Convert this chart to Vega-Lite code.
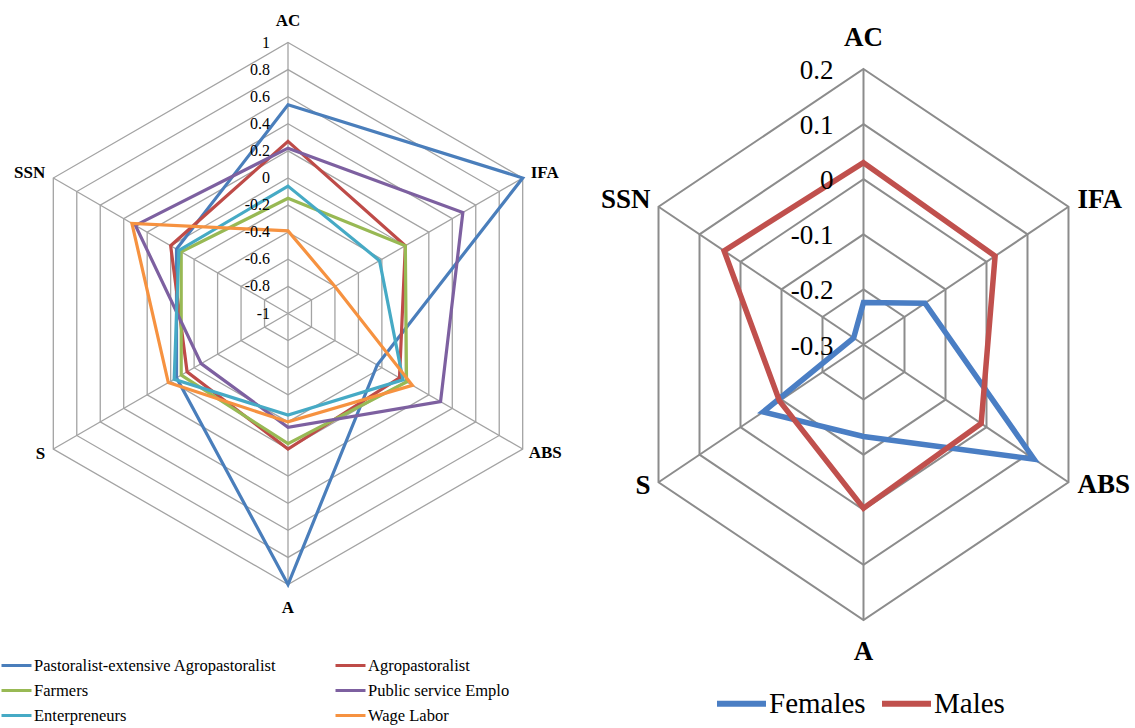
{
  "$schema": "https://vega.github.io/schema/vega-lite/v6.json",
  "padding": 0,
  "spacing": 0,
  "background": "white",
  "config": {"view": {"stroke": null}},
  "datasets": {
    "axes": [
      {"axis": "AC", "k": 0}, {"axis": "IFA", "k": 1}, {"axis": "ABS", "k": 2},
      {"axis": "A", "k": 3}, {"axis": "S", "k": 4}, {"axis": "SSN", "k": 5}
    ],
    "leftSeries": [
      {"series": "Pastoralist-extensive Agropastoralist", "k": 0, "value": 0.54},
      {"series": "Pastoralist-extensive Agropastoralist", "k": 1, "value": 1.0},
      {"series": "Pastoralist-extensive Agropastoralist", "k": 2, "value": -0.24},
      {"series": "Pastoralist-extensive Agropastoralist", "k": 3, "value": 1.0},
      {"series": "Pastoralist-extensive Agropastoralist", "k": 4, "value": -0.05},
      {"series": "Pastoralist-extensive Agropastoralist", "k": 5, "value": -0.05},
      {"series": "Agropastoralist", "k": 0, "value": 0.27},
      {"series": "Agropastoralist", "k": 1, "value": 0.0},
      {"series": "Agropastoralist", "k": 2, "value": -0.05},
      {"series": "Agropastoralist", "k": 3, "value": 0.0},
      {"series": "Agropastoralist", "k": 4, "value": -0.14},
      {"series": "Agropastoralist", "k": 5, "value": 0.0},
      {"series": "Farmers", "k": 0, "value": -0.15},
      {"series": "Farmers", "k": 1, "value": 0.0},
      {"series": "Farmers", "k": 2, "value": 0.01},
      {"series": "Farmers", "k": 3, "value": -0.04},
      {"series": "Farmers", "k": 4, "value": -0.09},
      {"series": "Farmers", "k": 5, "value": -0.09},
      {"series": "Public service Emplo", "k": 0, "value": 0.22},
      {"series": "Public service Emplo", "k": 1, "value": 0.49},
      {"series": "Public service Emplo", "k": 2, "value": 0.30},
      {"series": "Public service Emplo", "k": 3, "value": -0.16},
      {"series": "Public service Emplo", "k": 4, "value": -0.26},
      {"series": "Public service Emplo", "k": 5, "value": 0.30},
      {"series": "Enterpreneurs", "k": 0, "value": -0.06},
      {"series": "Enterpreneurs", "k": 1, "value": -0.22},
      {"series": "Enterpreneurs", "k": 2, "value": -0.02},
      {"series": "Enterpreneurs", "k": 3, "value": -0.25},
      {"series": "Enterpreneurs", "k": 4, "value": -0.03},
      {"series": "Enterpreneurs", "k": 5, "value": -0.07},
      {"series": "Wage Labor", "k": 0, "value": -0.39},
      {"series": "Wage Labor", "k": 1, "value": -0.6},
      {"series": "Wage Labor", "k": 2, "value": 0.06},
      {"series": "Wage Labor", "k": 3, "value": -0.2},
      {"series": "Wage Labor", "k": 4, "value": 0.02},
      {"series": "Wage Labor", "k": 5, "value": 0.33}
    ],
    "rightSeries": [
      {"series": "Females", "k": 0, "value": -0.224},
      {"series": "Females", "k": 1, "value": -0.15},
      {"series": "Females", "k": 2, "value": 0.116},
      {"series": "Females", "k": 3, "value": -0.133},
      {"series": "Females", "k": 4, "value": -0.055},
      {"series": "Females", "k": 5, "value": -0.276},
      {"series": "Males", "k": 0, "value": 0.03},
      {"series": "Males", "k": 1, "value": 0.021},
      {"series": "Males", "k": 2, "value": -0.013},
      {"series": "Males", "k": 3, "value": -0.003},
      {"series": "Males", "k": 4, "value": -0.095},
      {"series": "Males", "k": 5, "value": 0.04}
    ],
    "leftLevels": [
      {"level": 1, "lab": "1", "k": [0, 1, 2, 3, 4, 5]},
      {"level": 0.8, "lab": "0.8", "k": [0, 1, 2, 3, 4, 5]},
      {"level": 0.6, "lab": "0.6", "k": [0, 1, 2, 3, 4, 5]},
      {"level": 0.4, "lab": "0.4", "k": [0, 1, 2, 3, 4, 5]},
      {"level": 0.2, "lab": "0.2", "k": [0, 1, 2, 3, 4, 5]},
      {"level": 0, "lab": "0", "k": [0, 1, 2, 3, 4, 5]},
      {"level": -0.2, "lab": "-0.2", "k": [0, 1, 2, 3, 4, 5]},
      {"level": -0.4, "lab": "-0.4", "k": [0, 1, 2, 3, 4, 5]},
      {"level": -0.6, "lab": "-0.6", "k": [0, 1, 2, 3, 4, 5]},
      {"level": -0.8, "lab": "-0.8", "k": [0, 1, 2, 3, 4, 5]},
      {"level": -1, "lab": "-1", "k": [0]}
    ],
    "rightLevels": [
      {"level": 0.2, "lab": "0.2", "k": [0, 1, 2, 3, 4, 5]},
      {"level": 0.1, "lab": "0.1", "k": [0, 1, 2, 3, 4, 5]},
      {"level": 0, "lab": "0", "k": [0, 1, 2, 3, 4, 5]},
      {"level": -0.1, "lab": "-0.1", "k": [0, 1, 2, 3, 4, 5]},
      {"level": -0.2, "lab": "-0.2", "k": [0, 1, 2, 3, 4, 5]},
      {"level": -0.3, "lab": "-0.3", "k": [0]}
    ]
  },
  "hconcat": [
    {
      "width": 600,
      "height": 728,
      "encoding": {
        "x": {"field": "px", "type": "quantitative", "scale": {"domain": [-1.06273, 1.15129], "nice": false, "zero": false}, "axis": null},
        "y": {"field": "py", "type": "quantitative", "scale": {"domain": [-1.52952, 1.15683], "nice": false, "zero": false}, "axis": null}
      },
      "layer": [
        {
          "data": {"name": "leftLevels"},
          "transform": [
            {"filter": "datum.level > -1"},
            {"flatten": ["k"]},
            {"calculate": "(datum.level + 1) / 2", "as": "r"},
            {"calculate": "datum.r * sin(datum.k * PI / 3)", "as": "px"},
            {"calculate": "datum.r * cos(datum.k * PI / 3)", "as": "py"}
          ],
          "mark": {"type": "line", "interpolate": "linear-closed", "stroke": "#a3a3a3", "strokeWidth": 1.3},
          "encoding": {"detail": {"field": "level", "type": "nominal"}, "order": {"field": "k", "type": "quantitative"}}
        },
        {
          "data": {"name": "axes"},
          "transform": [
            {"calculate": "sin(datum.k * PI / 3)", "as": "px"},
            {"calculate": "cos(datum.k * PI / 3)", "as": "py"}
          ],
          "mark": {"type": "rule", "stroke": "#a3a3a3", "strokeWidth": 1.3},
          "encoding": {"x2": {"datum": 0}, "y2": {"datum": 0}}
        },
        {
          "data": {"name": "leftSeries"},
          "transform": [
            {"calculate": "(datum.value + 1) / 2", "as": "r"},
            {"calculate": "datum.r * sin(datum.k * PI / 3)", "as": "px"},
            {"calculate": "datum.r * cos(datum.k * PI / 3)", "as": "py"}
          ],
          "mark": {"type": "line", "interpolate": "linear-closed", "strokeWidth": 3.2},
          "encoding": {
            "order": {"field": "k", "type": "quantitative"},
            "color": {
              "field": "series", "type": "nominal",
              "scale": {
                "domain": ["Pastoralist-extensive Agropastoralist", "Farmers", "Enterpreneurs", "Agropastoralist", "Public service Emplo", "Wage Labor"],
                "range": ["#4a7ebb", "#98b954", "#46aac5", "#be4b48", "#7d60a0", "#f69240"]
              },
              "legend": {
                "title": null, "orient": "none", "legendX": 0, "legendY": 649,
                "columns": 2, "columnPadding": 52, "rowPadding": -3,
                "symbolType": "stroke", "symbolSize": 900, "symbolStrokeWidth": 3,
                "labelFont": "Liberation Serif", "labelFontSize": 16.5, "labelColor": "black",
                "labelOffset": 1, "labelLimit": 400
              }
            }
          }
        },
        {
          "data": {"name": "leftLevels"},
          "transform": [
            {"calculate": "0", "as": "px"},
            {"calculate": "(datum.level + 1) / 2", "as": "py"}
          ],
          "mark": {"type": "text", "align": "right", "baseline": "middle", "dx": -18, "font": "Liberation Serif", "fontSize": 16, "color": "black"},
          "encoding": {"text": {"field": "lab", "type": "nominal"}}
        },
        {
          "data": {"name": "axes"},
          "transform": [{"filter": "datum.axis == 'AC'"}, {"calculate": "sin(datum.k * PI / 3)", "as": "px"}, {"calculate": "cos(datum.k * PI / 3)", "as": "py"}],
          "mark": {"type": "text", "align": "center", "baseline": "middle", "dy": -22, "font": "Liberation Serif", "fontSize": 17, "fontWeight": "bold", "color": "black"},
          "encoding": {"text": {"field": "axis", "type": "nominal"}}
        },
        {
          "data": {"name": "axes"},
          "transform": [{"filter": "datum.axis == 'IFA'"}, {"calculate": "sin(datum.k * PI / 3)", "as": "px"}, {"calculate": "cos(datum.k * PI / 3)", "as": "py"}],
          "mark": {"type": "text", "align": "left", "baseline": "middle", "dx": 8, "dy": -5, "font": "Liberation Serif", "fontSize": 17, "fontWeight": "bold", "color": "black"},
          "encoding": {"text": {"field": "axis", "type": "nominal"}}
        },
        {
          "data": {"name": "axes"},
          "transform": [{"filter": "datum.axis == 'ABS'"}, {"calculate": "sin(datum.k * PI / 3)", "as": "px"}, {"calculate": "cos(datum.k * PI / 3)", "as": "py"}],
          "mark": {"type": "text", "align": "left", "baseline": "middle", "dx": 6, "dy": 4, "font": "Liberation Serif", "fontSize": 17, "fontWeight": "bold", "color": "black"},
          "encoding": {"text": {"field": "axis", "type": "nominal"}}
        },
        {
          "data": {"name": "axes"},
          "transform": [{"filter": "datum.axis == 'A'"}, {"calculate": "sin(datum.k * PI / 3)", "as": "px"}, {"calculate": "cos(datum.k * PI / 3)", "as": "py"}],
          "mark": {"type": "text", "align": "center", "baseline": "middle", "dy": 23, "font": "Liberation Serif", "fontSize": 17, "fontWeight": "bold", "color": "black"},
          "encoding": {"text": {"field": "axis", "type": "nominal"}}
        },
        {
          "data": {"name": "axes"},
          "transform": [{"filter": "datum.axis == 'S'"}, {"calculate": "sin(datum.k * PI / 3)", "as": "px"}, {"calculate": "cos(datum.k * PI / 3)", "as": "py"}],
          "mark": {"type": "text", "align": "right", "baseline": "middle", "dx": -8, "dy": 5, "font": "Liberation Serif", "fontSize": 17, "fontWeight": "bold", "color": "black"},
          "encoding": {"text": {"field": "axis", "type": "nominal"}}
        },
        {
          "data": {"name": "axes"},
          "transform": [{"filter": "datum.axis == 'SSN'"}, {"calculate": "sin(datum.k * PI / 3)", "as": "px"}, {"calculate": "cos(datum.k * PI / 3)", "as": "py"}],
          "mark": {"type": "text", "align": "right", "baseline": "middle", "dx": -8, "dy": -5, "font": "Liberation Serif", "fontSize": 17, "fontWeight": "bold", "color": "black"},
          "encoding": {"text": {"field": "axis", "type": "nominal"}}
        }
      ]
    },
    {
      "width": 535,
      "height": 728,
      "encoding": {
        "x": {"field": "px", "type": "quantitative", "scale": {"domain": [-1.10900, 1.15125], "nice": false, "zero": false}, "axis": null},
        "y": {"field": "py", "type": "quantitative", "scale": {"domain": [-1.39201, 1.25045], "nice": false, "zero": false}, "axis": null}
      },
      "layer": [
        {
          "data": {"name": "rightLevels"},
          "transform": [
            {"filter": "datum.level > -0.3"},
            {"flatten": ["k"]},
            {"calculate": "(datum.level + 0.3) / 0.5", "as": "r"},
            {"calculate": "datum.r * sin(datum.k * PI / 3)", "as": "px"},
            {"calculate": "datum.r * cos(datum.k * PI / 3)", "as": "py"}
          ],
          "mark": {"type": "line", "interpolate": "linear-closed", "stroke": "#8c8c8c", "strokeWidth": 2},
          "encoding": {"detail": {"field": "level", "type": "nominal"}, "order": {"field": "k", "type": "quantitative"}}
        },
        {
          "data": {"name": "axes"},
          "transform": [
            {"calculate": "sin(datum.k * PI / 3)", "as": "px"},
            {"calculate": "cos(datum.k * PI / 3)", "as": "py"}
          ],
          "mark": {"type": "rule", "stroke": "#8c8c8c", "strokeWidth": 2},
          "encoding": {"x2": {"datum": 0}, "y2": {"datum": 0}}
        },
        {
          "data": {"name": "rightSeries"},
          "transform": [
            {"calculate": "(datum.value + 0.3) / 0.5", "as": "r"},
            {"calculate": "datum.r * sin(datum.k * PI / 3)", "as": "px"},
            {"calculate": "datum.r * cos(datum.k * PI / 3)", "as": "py"}
          ],
          "mark": {"type": "line", "interpolate": "linear-closed", "strokeWidth": 5.5},
          "encoding": {
            "order": {"field": "k", "type": "quantitative"},
            "color": {
              "field": "series", "type": "nominal",
              "scale": {"domain": ["Females", "Males"], "range": ["#4a7ec4", "#c0504d"]},
              "legend": {
                "title": null, "orient": "none", "legendX": 113, "legendY": 676,
                "direction": "horizontal", "columnPadding": 4,
                "symbolType": "stroke", "symbolSize": 2400, "symbolStrokeWidth": 6,
                "labelFont": "Liberation Serif", "labelFontSize": 29, "labelColor": "black",
                "labelOffset": 0, "labelLimit": 400
              }
            }
          }
        },
        {
          "data": {"name": "rightLevels"},
          "transform": [
            {"calculate": "0", "as": "px"},
            {"calculate": "(datum.level + 0.3) / 0.5", "as": "py"}
          ],
          "mark": {"type": "text", "align": "right", "baseline": "middle", "dx": -30, "dy": 2, "font": "Liberation Serif", "fontSize": 27, "color": "black"},
          "encoding": {"text": {"field": "lab", "type": "nominal"}}
        },
        {
          "data": {"name": "axes"},
          "transform": [{"filter": "datum.axis == 'AC'"}, {"calculate": "sin(datum.k * PI / 3)", "as": "px"}, {"calculate": "cos(datum.k * PI / 3)", "as": "py"}],
          "mark": {"type": "text", "align": "center", "baseline": "middle", "dy": -31, "font": "Liberation Serif", "fontSize": 27, "fontWeight": "bold", "color": "black"},
          "encoding": {"text": {"field": "axis", "type": "nominal"}}
        },
        {
          "data": {"name": "axes"},
          "transform": [{"filter": "datum.axis == 'IFA'"}, {"calculate": "sin(datum.k * PI / 3)", "as": "px"}, {"calculate": "cos(datum.k * PI / 3)", "as": "py"}],
          "mark": {"type": "text", "align": "left", "baseline": "middle", "dx": 9, "dy": -7, "font": "Liberation Serif", "fontSize": 27, "fontWeight": "bold", "color": "black"},
          "encoding": {"text": {"field": "axis", "type": "nominal"}}
        },
        {
          "data": {"name": "axes"},
          "transform": [{"filter": "datum.axis == 'ABS'"}, {"calculate": "sin(datum.k * PI / 3)", "as": "px"}, {"calculate": "cos(datum.k * PI / 3)", "as": "py"}],
          "mark": {"type": "text", "align": "left", "baseline": "middle", "dx": 9, "dy": 3, "font": "Liberation Serif", "fontSize": 27, "fontWeight": "bold", "color": "black"},
          "encoding": {"text": {"field": "axis", "type": "nominal"}}
        },
        {
          "data": {"name": "axes"},
          "transform": [{"filter": "datum.axis == 'A'"}, {"calculate": "sin(datum.k * PI / 3)", "as": "px"}, {"calculate": "cos(datum.k * PI / 3)", "as": "py"}],
          "mark": {"type": "text", "align": "center", "baseline": "middle", "dy": 32, "font": "Liberation Serif", "fontSize": 27, "fontWeight": "bold", "color": "black"},
          "encoding": {"text": {"field": "axis", "type": "nominal"}}
        },
        {
          "data": {"name": "axes"},
          "transform": [{"filter": "datum.axis == 'S'"}, {"calculate": "sin(datum.k * PI / 3)", "as": "px"}, {"calculate": "cos(datum.k * PI / 3)", "as": "py"}],
          "mark": {"type": "text", "align": "right", "baseline": "middle", "dx": -8, "dy": 4, "font": "Liberation Serif", "fontSize": 27, "fontWeight": "bold", "color": "black"},
          "encoding": {"text": {"field": "axis", "type": "nominal"}}
        },
        {
          "data": {"name": "axes"},
          "transform": [{"filter": "datum.axis == 'SSN'"}, {"calculate": "sin(datum.k * PI / 3)", "as": "px"}, {"calculate": "cos(datum.k * PI / 3)", "as": "py"}],
          "mark": {"type": "text", "align": "right", "baseline": "middle", "dx": -8, "dy": -7, "font": "Liberation Serif", "fontSize": 27, "fontWeight": "bold", "color": "black"},
          "encoding": {"text": {"field": "axis", "type": "nominal"}}
        }
      ]
    }
  ],
  "resolve": {"scale": {"color": "independent"}}
}
